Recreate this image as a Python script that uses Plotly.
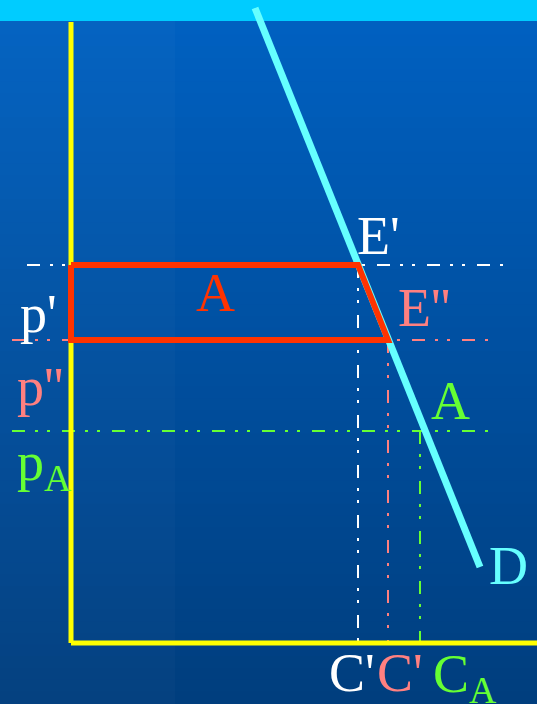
import plotly.graph_objects as go

# Economic values (quantity q, price p) in chart units
p_prime = 378      # p'
p_dprime = 303     # p''
p_A = 212          # pA
C_prime = 287      # C'
C_dprime = 317     # C''
C_A = 349          # CA
demand_q = [184, 409]
demand_p = [635, 76]
q_max = 466
p_max = 621
ref_left = [-44, -59, -59]     # left end of the dash-dot price lines
ref_right = [434, 419, 419]    # right end of the dash-dot price lines

WHITE = "#FFFFFF"
PINK = "#FF8080"
GREEN = "#66FF33"
RED = "#FF3300"
CYAN = "#66FFFF"
YELLOW = "#FFFF00"
DASH = "13px,10px,3px,9px,3px,12px"

fig = go.Figure()

# background gradient
shapes = []
N = 60
top = (0, 97, 194)
bot = (0, 62, 126)
for i in range(N):
    t = i / (N - 1)
    c = tuple(int(round(top[k] + (bot[k] - top[k]) * t)) for k in range(3))
    y1 = 1 - i / N
    y0 = 1 - (i + 1) / N
    shapes.append(dict(type="rect", xref="paper", yref="paper", x0=0, x1=1,
                       y0=y0 - 0.001, y1=y1 + 0.001, fillcolor="rgb(%d,%d,%d)" % c,
                       line_width=0, layer="below"))
shapes.append(dict(type="rect", xref="paper", yref="paper", x0=0, x1=175 / 537,
                   y0=0, y1=1, fillcolor="rgba(255,255,255,0.02)", line_width=0, layer="below"))
shapes.append(dict(type="rect", xref="paper", yref="paper", x0=0, x1=1,
                   y0=1 - 21 / 704, y1=1, fillcolor="#00CCFF", line_width=0, layer="below"))

def line(x, y, color, width, dash=None):
    fig.add_trace(go.Scatter(x=x, y=y, mode="lines",
                             line=dict(color=color, width=width, dash=dash),
                             hoverinfo="skip", showlegend=False))

# dash-dot reference lines
line([ref_left[0], ref_right[0]], [p_prime, p_prime], WHITE, 2, DASH)
line([ref_left[1], ref_right[1]], [p_dprime, p_dprime], PINK, 2, DASH)
line([ref_left[2], ref_right[2]], [p_A, p_A], GREEN, 2, DASH)
line([C_prime, C_prime], [p_prime, 0], WHITE, 2, DASH)
line([C_dprime, C_dprime], [p_dprime, 0], PINK, 2, DASH)
line([C_A, C_A], [p_A, 0], GREEN, 2, DASH)

# demand curve
line(demand_q, demand_p, CYAN, 7)

# axes
line([0, 0], [0, p_max], YELLOW, 5)
line([0, q_max], [0, 0], YELLOW, 5)

# area A polygon
line([0, C_prime, C_dprime, 0, 0], [p_prime, p_prime, p_dprime, p_dprime, p_prime], RED, 6)

FONT = "Liberation Serif, Times New Roman, serif"
ann = [
    ("E'", 307, 407, WHITE),
    ("A", 144, 350, RED),
    ("p'", -33, 329, WHITE),
    ("E''", 353, 335, PINK),
    ("p''", -31, 256, PINK),
    ("A", 379, 242, GREEN),
    ("p<sub>A</sub>", -27, 178, GREEN),
    ("D", 437, 77, CYAN),
    ("C'", C_prime - 6, -30, WHITE),
    ("C'", C_dprime + 12, -30, PINK),
    ("C<sub>A</sub>", C_A + 45, -34, GREEN),
]
annotations = []
for txt, x, y, col in ann:
    annotations.append(dict(text=txt, x=x, y=y, xref="x", yref="y", showarrow=False,
                            font=dict(family=FONT, size=54, color=col),
                            xanchor="center", yanchor="middle"))

fig.update_layout(
    width=537, height=704, margin=dict(l=0, r=0, t=0, b=0),
    paper_bgcolor="#0050A0", plot_bgcolor="rgba(0,0,0,0)",
    xaxis=dict(range=[-71, 466], visible=False, fixedrange=True),
    yaxis=dict(range=[-61, 643], visible=False, fixedrange=True),
    shapes=shapes, annotations=annotations, showlegend=False,
)

fig.write_html("out.html", config={"displayModeBar": False},
               post_script="document.body.style.margin='0';document.body.style.overflow='hidden';")
